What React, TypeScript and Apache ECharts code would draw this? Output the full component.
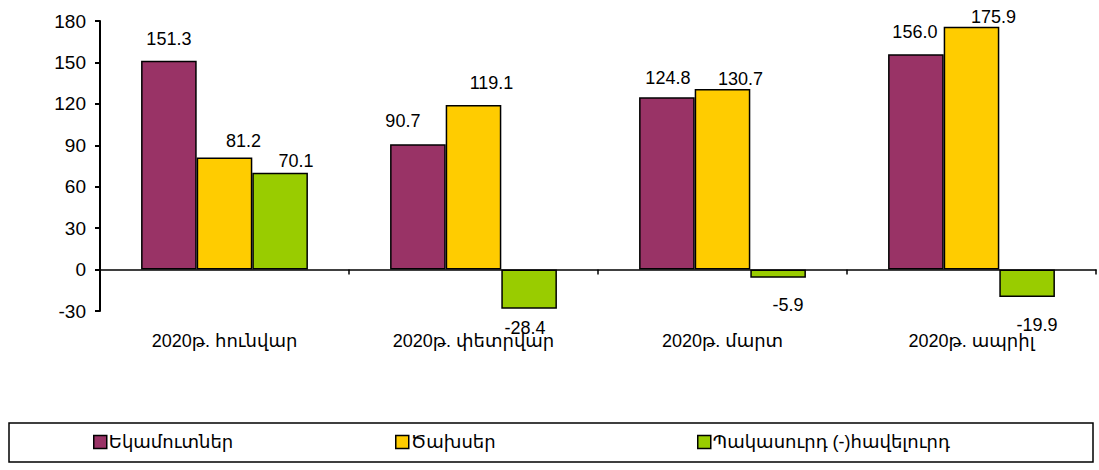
import React, { useEffect, useRef } from "react";
import * as echarts from "echarts";

const categories = ["2020թ. հունվար", "2020թ. փետրվար", "2020թ. մարտ", "2020թ. ապրիլ"];
const seriesNames = ["Եկամուտներ", "Ծախսեր", "Պակասուրդ (-)հավելուրդ"];
const revenues = [151.3, 90.7, 124.8, 156.0];
const expenses = [81.2, 119.1, 130.7, 175.9];
const balance = [70.1, -28.4, -5.9, -19.9];
const colors = ["#993366", "#FFCC00", "#99CC00"];
const yTicks = { min: -30, max: 180, interval: 30 };

// label nudges (style only): [dx, gap from bar end] per series, per category
const labelNudges = [
  [[0, 16], [-15, 17], [1, 13], [-1, 16]],
  [[19, 10], [18, 16], [18, 4], [22, 4]],
  [[16, 6], [-4, 13], [10, 21], [10, 22]],
];

const FONT = "'Liberation Sans', Arial, 'DejaVu Sans', sans-serif";

function buildData(values: number[], nudges: number[][]) {
  return values.map((v, j) => ({
    value: v,
    label: {
      position: v < 0 ? "bottom" : "top",
      distance: Math.max(0, nudges[j][1] - 3),
      offset: [nudges[j][0], 0],
    },
  }));
}

export default function App() {
  const ref = useRef<HTMLDivElement>(null);
  useEffect(() => {
    if (!ref.current) return;
    const chart = echarts.init(ref.current, undefined, { renderer: "svg" });
    const allSeries = [revenues, expenses, balance];
    const legendLefts = [93, 395, 697];
    chart.setOption({
      animation: false,
      backgroundColor: "#ffffff",
      textStyle: { fontFamily: FONT },
      grid: { left: 100, right: 3, top: 21, bottom: 159 },
      graphic: [
        {
          type: "rect",
          shape: { x: 9, y: 423, width: 1084, height: 39 },
          style: { fill: "none", stroke: "#000", lineWidth: 1.5 },
          silent: true,
        },
      ],
      legend: seriesNames.map((n, i) => ({
        data: [n],
        left: legendLefts[i],
        top: 433,
        itemWidth: 13,
        itemHeight: 13,
        itemGap: 0,
        padding: 0,
        textStyle: { fontFamily: FONT, fontSize: 18, color: "#000", padding: [0, 0, 0, -3] },
        icon: "rect",
        itemStyle: { borderColor: "#000", borderWidth: 1.5 },
      })),
      xAxis: [
        {
          type: "category",
          data: categories,
          position: "bottom",
          axisLine: { show: false, onZero: false },
          axisTick: { show: false },
          axisLabel: { color: "#000", fontSize: 18, fontFamily: FONT, margin: 21 },
        },
        {
          type: "category",
          data: categories,
          position: "bottom",
          axisLine: { show: true, onZero: true, lineStyle: { color: "#000", width: 1.5 } },
          axisTick: { show: true, inside: false, length: 5, lineStyle: { color: "#000", width: 1.5 } },
          axisLabel: { show: false },
        },
      ],
      yAxis: {
        type: "value",
        min: yTicks.min,
        max: yTicks.max,
        interval: yTicks.interval,
        axisLine: { show: true, lineStyle: { color: "#000", width: 2 } },
        axisTick: { show: true, length: 5, lineStyle: { color: "#000", width: 2 } },
        axisLabel: { color: "#000", fontSize: 19, fontFamily: FONT, margin: 14 },
        splitLine: { show: false },
      },
      series: allSeries.map((vals, i) => ({
        name: seriesNames[i],
        type: "bar",
        xAxisIndex: 0,
        data: buildData(vals, labelNudges[i]),
        barGap: "0%",
        barCategoryGap: "33%",
        itemStyle: { color: colors[i], borderColor: "#000", borderWidth: 1.5 },
        label: {
          show: true,
          color: "#000",
          fontSize: 18,
          fontFamily: FONT,
          formatter: (p: any) => Number(p.value).toFixed(1),
        },
      })),
    });
    return () => chart.dispose();
  }, []);
  return (
    <div
      ref={ref}
      style={{ position: "absolute", left: 0, top: 0, width: 1099, height: 470 }}
    />
  );
}
